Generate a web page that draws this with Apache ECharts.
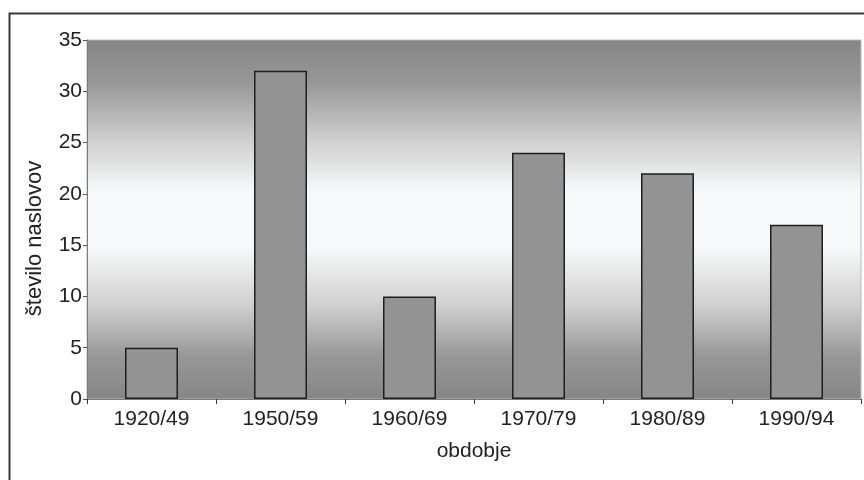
<!DOCTYPE html>
<html>
<head>
<meta charset="utf-8">
<script src="https://cdn.jsdelivr.net/npm/echarts@6/dist/echarts.min.js"></script>
<style>html,body{margin:0;padding:0;background:#fff;}#c{width:864px;height:480px;}</style>
</head>
<body>
<div id="c"></div>
<script>
var categories = ['1920/49', '1950/59', '1960/69', '1970/79', '1980/89', '1990/94'];
var values = [5, 32, 10, 24, 22, 17];
var yTicks = { min: 0, max: 35, interval: 5 };
var yName = 'število naslovov';
var xName = 'obdobje';

var chart = echarts.init(document.getElementById('c'), null, { renderer: 'canvas' });
var font = 'Liberation Sans, Arial, sans-serif';
chart.setOption({
  backgroundColor: '#ffffff',
  animation: false,
  graphic: [{
    type: 'rect', left: 7, top: 11, z: -10,
    shape: { width: 900, height: 520 },
    style: { fill: 'none', stroke: '#3a3a3a', lineWidth: 2 }
  }],
  grid: {
    left: 87, right: 3, top: 40, bottom: 81,
    show: true, borderWidth: 1, borderColor: '#b8b8b8',
    backgroundColor: new echarts.graphic.LinearGradient(0, 0, 0, 1, [
      { offset: 0, color: '#868686' },
      { offset: 0.12, color: '#979797' },
      { offset: 0.28, color: '#cfcfcf' },
      { offset: 0.42, color: '#f7f8f9' },
      { offset: 0.58, color: '#f7f8f9' },
      { offset: 0.74, color: '#cfcfcf' },
      { offset: 0.88, color: '#979797' },
      { offset: 1, color: '#868686' }
    ])
  },
  xAxis: {
    type: 'category', data: categories,
    name: xName, nameLocation: 'middle', nameGap: 42,
    nameTextStyle: { fontSize: 21, color: '#222', fontFamily: font },
    axisLine: { lineStyle: { color: '#7a7a7a', width: 1 } },
    axisTick: { show: true, length: 5, lineStyle: { color: '#333' } },
    axisLabel: { fontSize: 21, color: '#222', margin: 10, fontFamily: font },
    splitLine: { show: false }
  },
  yAxis: {
    type: 'value', min: yTicks.min, max: yTicks.max, interval: yTicks.interval,
    name: yName, nameLocation: 'middle', nameGap: 41, nameRotate: 90,
    nameTextStyle: { fontSize: 22, color: '#222', fontFamily: font, padding: [0, 38, 0, 0] },
    axisLine: { show: true, lineStyle: { color: '#7a7a7a', width: 1 } },
    axisTick: { show: true, length: 4, lineStyle: { color: '#555' } },
    axisLabel: { fontSize: 21, color: '#222', margin: 5, fontFamily: font },
    splitLine: { show: false }
  },
  series: [{
    type: 'bar', data: values, barWidth: 53,
    itemStyle: { color: '#939393', borderColor: '#1e1e1e', borderWidth: 1.5 }
  }]
});
</script>
</body>
</html>
